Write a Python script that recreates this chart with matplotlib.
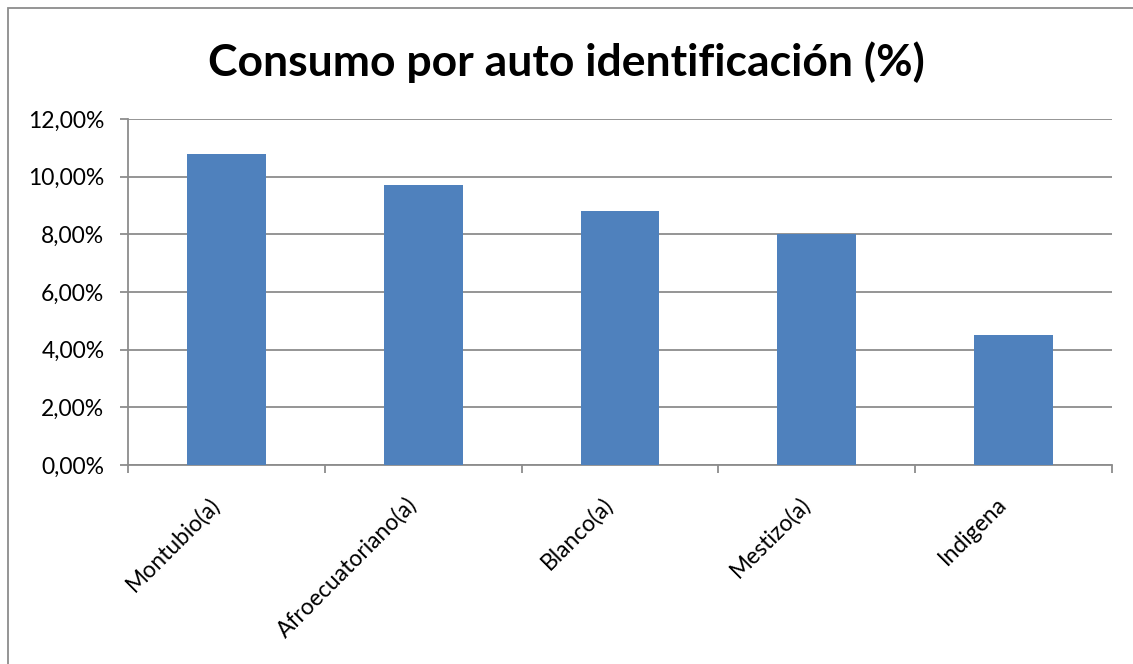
import numpy as np
import matplotlib.pyplot as plt
from matplotlib.patches import Rectangle
from matplotlib.ticker import FuncFormatter, FixedLocator
from matplotlib.transforms import offset_copy

plt.rcParams['font.family'] = ['Lato', 'DejaVu Sans']

categories = ['Montubio(a)', 'Afroecuatoriano(a)', 'Blanco(a)', 'Mestizo(a)', 'Indigena']
values = [10.8, 9.7, 8.8, 8.0, 4.5]
y_ticks = [0, 2, 4, 6, 8, 10, 12]

bar_color = '#4f81bd'
grid_color = '#8c8c8c'

fig = plt.figure(figsize=(11.33, 6.64), dpi=100)
ax = fig.add_axes([128 / 1133, 1 - 465 / 664, (1112 - 128) / 1133, (465 - 119) / 664])

x = np.arange(len(categories))
ax.bar(x, values, width=0.4, color=bar_color, zorder=3)

ax.set_xlim(-0.5, len(categories) - 0.5)
ax.set_ylim(0, 12)
ax.set_yticks(y_ticks)
ax.yaxis.set_major_formatter(FuncFormatter(lambda v, _: f'{v:.2f}%'.replace('.', ',')))
ax.grid(axis='y', color=grid_color, linewidth=1.3, zorder=0)

# category ticks sit between the bars
ax.xaxis.set_major_locator(FixedLocator(np.arange(-0.5, len(categories), 1)))
ax.xaxis.set_major_formatter(FuncFormatter(lambda v, _: ''))
ax.tick_params(axis='x', which='major', length=6, width=1.3, color=grid_color)
ax.tick_params(axis='y', length=6, width=1.3, color=grid_color, labelsize=16.5, pad=11)

# rotated category labels under the bars
label_tr = offset_copy(ax.get_xaxis_transform(), fig=fig, x=-10, y=-36, units='dots')
for xi, name in zip(x, categories):
    ax.text(xi, 0, name, transform=label_tr, rotation=45, rotation_mode='anchor',
            ha='right', va='center', fontsize=16.5)

for side in ['top', 'right']:
    ax.spines[side].set_visible(False)
for side in ['left', 'bottom']:
    ax.spines[side].set_color(grid_color)
    ax.spines[side].set_linewidth(1.3)

fig.text(0.5, 1 - 62 / 664, 'Consumo por auto identificación (%)',
         ha='center', va='center', fontsize=32, fontweight='bold')

# chart area frame, cropped at right and bottom like the reference
fig.patches.append(Rectangle((8 / 1133, -0.1), 1.2, 1 - 8 / 664 + 0.1,
                             transform=fig.transFigure, fill=False,
                             edgecolor='#8c8c8c', linewidth=1.3))

fig.savefig('out.png', dpi=100)
